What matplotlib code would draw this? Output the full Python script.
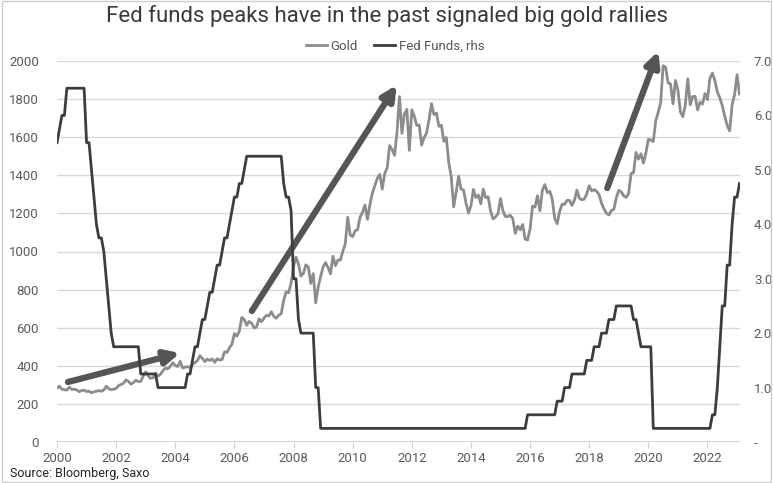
import numpy as np
import matplotlib
matplotlib.use("Agg")
import matplotlib.pyplot as plt
from matplotlib.patches import Rectangle

# Gold, month-end USD/oz, Jan 2000 .. Feb 2023
gold_2000s = [
    283, 293, 277, 274, 273, 288, 276, 277, 273, 264, 270, 272,
    265, 267, 258, 264, 266, 270, 266, 273, 293, 279, 275, 277,
    282, 296, 302, 308, 326, 318, 304, 312, 324, 317, 318, 347,
    368, 347, 334, 337, 361, 346, 355, 375, 388, 384, 398, 416,
    402, 396, 424, 388, 393, 395, 391, 408, 416, 428, 453, 438,
    422, 435, 428, 436, 418, 437, 430, 433, 473, 470, 495, 513,
    569, 556, 582, 654, 643, 613, 633, 623, 599, 604, 646, 632,
    650, 665, 662, 684, 659, 650, 666, 673, 743, 789, 783, 834,
    923, 971, 934, 871, 885, 930, 918, 833, 884, 730, 814, 869,
    919, 942, 916, 883, 975, 926, 955, 955, 1001, 1040, 1180, 1087,
]
gold_2010s = [
    1078, 1108, 1115, 1180, 1207, 1244, 1169, 1246, 1307, 1346, 1384, 1405,
    1327, 1409, 1439, 1556, 1536, 1505, 1628, 1813, 1620, 1722, 1746, 1531,
    1744, 1711, 1662, 1664, 1558, 1598, 1622, 1692, 1776, 1719, 1726, 1657,
    1663, 1578, 1598, 1467, 1393, 1234, 1312, 1395, 1327, 1323, 1253, 1202,
    1240, 1326, 1284, 1296, 1250, 1327, 1282, 1287, 1211, 1171, 1182, 1199,
    1278, 1213, 1183, 1184, 1190, 1172, 1095, 1134, 1114, 1142, 1065, 1060,
    1118, 1238, 1233, 1293, 1214, 1322, 1351, 1309, 1316, 1275, 1173, 1146,
    1210, 1249, 1247, 1268, 1268, 1242, 1269, 1322, 1280, 1271, 1275, 1303,
    1345, 1318, 1325, 1316, 1299, 1253, 1224, 1201, 1192, 1215, 1222, 1282,
    1321, 1313, 1292, 1284, 1305, 1409, 1414, 1520, 1485, 1513, 1464, 1517,
]
gold_2020s = [
    1589, 1585, 1577, 1686, 1730, 1781, 1975, 1968, 1886, 1879, 1776, 1898,
    1848, 1734, 1708, 1769, 1907, 1770, 1814, 1814, 1743, 1784, 1774, 1829,
    1797, 1909, 1937, 1897, 1837, 1807, 1766, 1711, 1661, 1633, 1769, 1824,
    1928, 1827,
]

# Fed funds target (upper bound), month-end, %
fed_2000s = [
    5.5, 5.75, 6.0, 6.0, 6.5, 6.5, 6.5, 6.5, 6.5, 6.5, 6.5, 6.5,
    5.5, 5.5, 5.0, 4.5, 4.0, 3.75, 3.75, 3.5, 3.0, 2.5, 2.0, 1.75,
    1.75, 1.75, 1.75, 1.75, 1.75, 1.75, 1.75, 1.75, 1.75, 1.75, 1.25, 1.25,
    1.25, 1.25, 1.25, 1.25, 1.25, 1.0, 1.0, 1.0, 1.0, 1.0, 1.0, 1.0,
    1.0, 1.0, 1.0, 1.0, 1.0, 1.25, 1.25, 1.5, 1.75, 1.75, 2.0, 2.25,
    2.25, 2.5, 2.75, 2.75, 3.0, 3.25, 3.25, 3.5, 3.75, 3.75, 4.0, 4.25,
    4.5, 4.5, 4.75, 4.75, 5.0, 5.25, 5.25, 5.25, 5.25, 5.25, 5.25, 5.25,
    5.25, 5.25, 5.25, 5.25, 5.25, 5.25, 5.25, 5.25, 4.75, 4.5, 4.5, 4.25,
    3.0, 3.0, 2.25, 2.0, 2.0, 2.0, 2.0, 2.0, 2.0, 1.0, 1.0, 0.25,
    0.25, 0.25, 0.25, 0.25, 0.25, 0.25, 0.25, 0.25, 0.25, 0.25, 0.25, 0.25,
]
fed_2010s = [
    0.25, 0.25, 0.25, 0.25, 0.25, 0.25, 0.25, 0.25, 0.25, 0.25, 0.25, 0.25,
    0.25, 0.25, 0.25, 0.25, 0.25, 0.25, 0.25, 0.25, 0.25, 0.25, 0.25, 0.25,
    0.25, 0.25, 0.25, 0.25, 0.25, 0.25, 0.25, 0.25, 0.25, 0.25, 0.25, 0.25,
    0.25, 0.25, 0.25, 0.25, 0.25, 0.25, 0.25, 0.25, 0.25, 0.25, 0.25, 0.25,
    0.25, 0.25, 0.25, 0.25, 0.25, 0.25, 0.25, 0.25, 0.25, 0.25, 0.25, 0.25,
    0.25, 0.25, 0.25, 0.25, 0.25, 0.25, 0.25, 0.25, 0.25, 0.25, 0.25, 0.5,
    0.5, 0.5, 0.5, 0.5, 0.5, 0.5, 0.5, 0.5, 0.5, 0.5, 0.5, 0.75,
    0.75, 0.75, 1.0, 1.0, 1.0, 1.25, 1.25, 1.25, 1.25, 1.25, 1.25, 1.5,
    1.5, 1.5, 1.75, 1.75, 1.75, 2.0, 2.0, 2.0, 2.25, 2.25, 2.25, 2.5,
    2.5, 2.5, 2.5, 2.5, 2.5, 2.5, 2.25, 2.25, 2.0, 1.75, 1.75, 1.75,
]
fed_2020s = [
    1.75, 1.75, 0.25, 0.25, 0.25, 0.25, 0.25, 0.25, 0.25, 0.25, 0.25, 0.25,
    0.25, 0.25, 0.25, 0.25, 0.25, 0.25, 0.25, 0.25, 0.25, 0.25, 0.25, 0.25,
    0.25, 0.25, 0.5, 0.5, 1.0, 1.75, 2.5, 2.5, 3.25, 3.25, 4.0, 4.5,
    4.5, 4.75,
]

gold = gold_2000s + gold_2010s + gold_2020s
fed = fed_2000s + fed_2010s + fed_2020s
months = np.arange(len(gold))
x = 2000 + months / 12

# arrows (start year, start gold, end year, end gold)
arrows = [
    (2000.37, 315, 2004.16, 467),
    (2006.59, 688, 2011.49, 1874),
    (2018.61, 1333, 2020.34, 2052),
]

gold_color = '#8c8c8c'
fed_color = '#3d3d3d'
tick_color = '#5a5a5a'

plt.rcParams['font.family'] = ['Roboto', 'DejaVu Sans']

fig = plt.figure(figsize=(7.73, 4.83), dpi=100)
ax = fig.add_axes([57 / 773, 1 - 442 / 483, (740 - 57) / 773, (442 - 61) / 483])
ax2 = ax.twinx()

l1, = ax.plot(x, gold, color=gold_color, lw=2, label='Gold', zorder=3)
l2, = ax2.plot(x, fed, color=fed_color, lw=2, label='Fed Funds, rhs', zorder=3)

for x0, y0, x1, y1 in arrows:
    ax.annotate('', xy=(x1, y1), xytext=(x0, y0), annotation_clip=False,
                arrowprops=dict(arrowstyle='-|>,head_length=0.85,head_width=0.42',
                                lw=4.5, color='#555555', shrinkA=0, shrinkB=0),
                zorder=5)

ax.set_xlim(2000, 2023.1)
ax.set_ylim(0, 2000)
ax2.set_ylim(0, 7)
ax.set_yticks(range(0, 2001, 200))
ax2.set_yticks(range(0, 8))
ax2.set_yticklabels(['-'] + [f'{v:.1f}' for v in range(1, 8)])
ax.set_xticks(range(2000, 2023, 2))

ax.grid(True, axis='y', color='#d9d9d9', lw=1)
ax.set_axisbelow(True)
for a in (ax, ax2):
    for s in ('top', 'left', 'right', 'bottom'):
        a.spines[s].set_visible(False)
ax.axhline(0, color='#cfcfcf', lw=1.2, zorder=1)

ax.tick_params(axis='y', length=0, pad=13, labelsize=9.5, labelcolor=tick_color)
ax2.tick_params(axis='y', length=0, pad=10, labelsize=9.5, labelcolor=tick_color)
ax.tick_params(axis='x', length=4, color='#cfcfcf', pad=3, labelsize=9.5,
               labelcolor=tick_color)

fig.text(0.5, 1 - 16 / 483, 'Fed funds peaks have in the past signaled big gold rallies',
         ha='center', va='center', fontsize=16, color='#3a3a3a')
fig.legend(handles=[l1, l2], loc='center', bbox_to_anchor=(395 / 773, 1 - 46 / 483),
           ncol=2, frameon=False, fontsize=9.5, handlelength=1.6, handletextpad=0.3,
           columnspacing=1.2, labelcolor='#555555')
fig.text(10 / 773, 1 - 474 / 483, 'Source: Bloomberg, Saxo', ha='left', va='center',
         fontsize=9, color='#222222')

fig.patches.append(Rectangle((0.002, 0.002), 0.996, 0.996, transform=fig.transFigure,
                             fill=False, edgecolor='#cccccc', lw=1))

fig.savefig('out.png', dpi=100)
